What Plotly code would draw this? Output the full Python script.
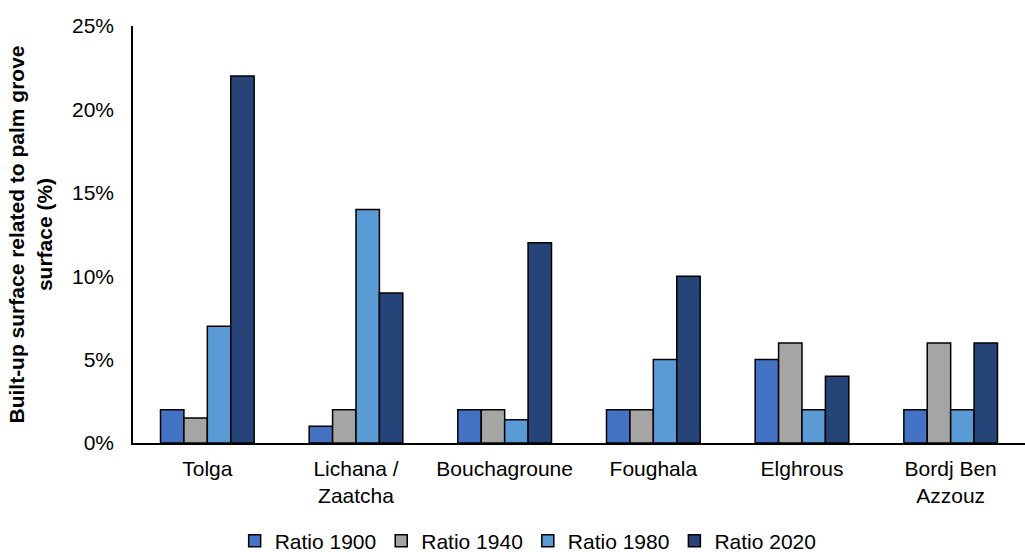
import plotly.graph_objects as go

categories = ["Tolga", "Lichana /<br>Zaatcha", "Bouchagroune", "Foughala", "Elghrous", "Bordj Ben<br>Azzouz"]
ratio_1900 = [0.02, 0.01, 0.02, 0.02, 0.05, 0.02]
ratio_1940 = [0.015, 0.02, 0.02, 0.02, 0.06, 0.06]
ratio_1980 = [0.07, 0.14, 0.014, 0.05, 0.02, 0.02]
ratio_2020 = [0.22, 0.09, 0.12, 0.10, 0.04, 0.06]

series = [
    ("Ratio 1900", ratio_1900, "#4472C4"),
    ("Ratio 1940", ratio_1940, "#A5A5A5"),
    ("Ratio 1980", ratio_1980, "#5B9BD5"),
    ("Ratio 2020", ratio_2020, "#264478"),
]

fig = go.Figure()
for name, vals, color in series:
    fig.add_trace(go.Bar(
        x=categories, y=vals, name=name,
        marker=dict(color=color, line=dict(color="black", width=1.5)),
    ))

font_family = "Liberation Sans, Arial, sans-serif"
fig.update_layout(
    width=1025, height=552,
    margin=dict(l=133, r=0, t=26, b=109, autoexpand=False),
    paper_bgcolor="white", plot_bgcolor="white",
    barmode="group", bargap=0.37, bargroupgap=0,
    font=dict(family=font_family, size=21, color="black"),
    showlegend=True,
    legend=dict(orientation="h", x=0.443, xanchor="center", y=-0.235, yanchor="middle",
                font=dict(size=21), itemwidth=30, tracegroupgap=0, borderwidth=0),
    xaxis=dict(showline=True, linecolor="black", linewidth=1.5, ticks="",
               tickfont=dict(size=21), showgrid=False, ticklabelstandoff=6),
    yaxis=dict(range=[0, 0.25], dtick=0.05, tickformat=".0%", showline=True,
               linecolor="black", linewidth=1.5, ticks="", showgrid=False, zeroline=False,
               tickfont=dict(size=21), ticklabelstandoff=13,
               title=dict(text="<b>Built-up surface related to palm grove<br>surface (%)</b>",
                          font=dict(size=21), standoff=14)),
)

fig.write_html("out.html")
